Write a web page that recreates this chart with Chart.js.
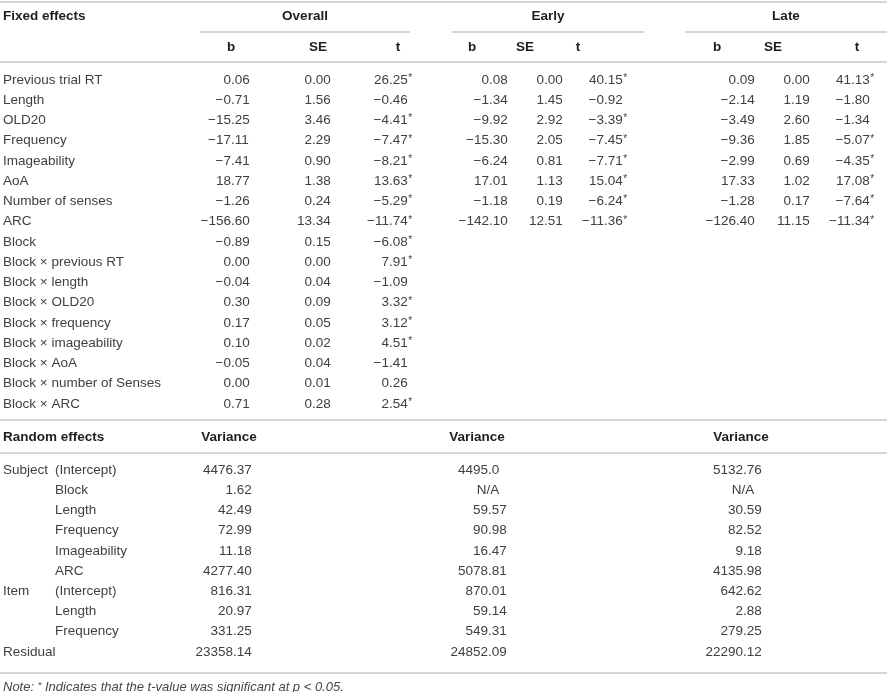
<!DOCTYPE html>
<html>
<head>
<meta charset="utf-8">
<script src="https://cdn.jsdelivr.net/npm/chart.js@4.4.1/dist/chart.umd.min.js"></script>
<style>
html,body{margin:0;padding:0;background:#fff;}
#wrap{width:887px;height:692px;}
</style>
</head>
<body>
<div id="wrap"><canvas id="c" width="887" height="692"></canvas></div>
<script>
// ---------- DATA ----------
const fixedLabels = ["Previous trial RT","Length","OLD20","Frequency","Imageability","AoA","Number of senses","ARC","Block","Block × previous RT","Block × length","Block × OLD20","Block × frequency","Block × imageability","Block × AoA","Block × number of Senses","Block × ARC"];
const groupLabels = ["Overall","Early","Late"];
const statLabels = ["b","SE","t"];
const overallB  = ["0.06","-0.71","-15.25","-17.11","-7.41","18.77","-1.26","-156.60","-0.89","0.00","-0.04","0.30","0.17","0.10","-0.05","0.00","0.71"];
const overallSE = ["0.00","1.56","3.46","2.29","0.90","1.38","0.24","13.34","0.15","0.00","0.04","0.09","0.05","0.02","0.04","0.01","0.28"];
const overallT  = ["26.25*","-0.46","-4.41*","-7.47*","-8.21*","13.63*","-5.29*","-11.74*","-6.08*","7.91*","-1.09","3.32*","3.12*","4.51*","-1.41","0.26","2.54*"];
const earlyB  = ["0.08","-1.34","-9.92","-15.30","-6.24","17.01","-1.18","-142.10"];
const earlySE = ["0.00","1.45","2.92","2.05","0.81","1.13","0.19","12.51"];
const earlyT  = ["40.15*","-0.92","-3.39*","-7.45*","-7.71*","15.04*","-6.24*","-11.36*"];
const lateB  = ["0.09","-2.14","-3.49","-9.36","-2.99","17.33","-1.28","-126.40"];
const lateSE = ["0.00","1.19","2.60","1.85","0.69","1.02","0.17","11.15"];
const lateT  = ["41.13*","-1.80","-1.34","-5.07*","-4.35*","17.08*","-7.64*","-11.34*"];
const randomGroup = ["Subject","","","","","","Item","","","Residual"];
const randomTerm  = ["(Intercept)","Block","Length","Frequency","Imageability","ARC","(Intercept)","Length","Frequency",""];
const varOverall = ["4476.37","1.62","42.49","72.99","11.18","4277.40","816.31","20.97","331.25","23358.14"];
const varEarly   = ["4495.0","N/A","59.57","90.98","16.47","5078.81","870.01","59.14","549.31","24852.09"];
const varLate    = ["5132.76","N/A","30.59","82.52","9.18","4135.98","642.62","2.88","279.25","22290.12"];
const headFixed = "Fixed effects";
const headRandom = "Random effects";
const headVariance = "Variance";
const noteText = "Note: * Indicates that the t-value was significant at p < 0.05.";

// ---------- LAYOUT ----------
const W = 887, H = 692;
const FONT = '"Liberation Sans", Arial, sans-serif';
const fixedTop = 80, fixedStep = 20.25;
const randTop = 470, randStep = 20.2;
const groupCenters = [305, 548, 786];
const statCenters = [[231,318,398],[472,525,578],[717,773,857]];
const statDecimal = [[231,312,389],[489,544,604],[736,791,851]];
const varCenters = [229, 477, 741];
const varDecimal = [233, 488, 743];
const ruleColor = '#c9c9c9';
const rules = [
  {x0:0,x1:887,y:2},
  {x0:200,x1:410,y:32},{x0:452,x1:644,y:32},{x0:685,x1:887,y:32},
  {x0:0,x1:887,y:62},
  {x0:0,x1:887,y:420},
  {x0:0,x1:887,y:453},
  {x0:0,x1:887,y:673}
];

const ruleDatasets = rules.map(r => ({
  type:'line',
  data:[{x:r.x0,y:r.y},{x:r.x1,y:r.y}],
  borderColor:ruleColor, borderWidth:1.4, pointRadius:0, fill:false, tension:0
}));

const statCols = [[overallB,overallSE,overallT],[earlyB,earlySE,earlyT],[lateB,lateSE,lateT]];
const varCols = [varOverall,varEarly,varLate];
const TEXT = '#404040';

function drawDecimal(ctx, s, dx, y) {
  let star = false;
  if (s.endsWith('*')) { star = true; s = s.slice(0,-1); }
  s = s.replace('-', '\u2212');
  ctx.font = '13.5px ' + FONT;
  ctx.fillStyle = TEXT;
  ctx.textBaseline = 'middle';
  if (s === 'N/A') {
    ctx.textAlign = 'center';
    ctx.fillText(s, dx, y);
    return;
  }
  const i = s.indexOf('.');
  const ip = i >= 0 ? s.slice(0,i) : s;
  const fp = i >= 0 ? s.slice(i) : '';
  ctx.textAlign = 'right';
  ctx.fillText(ip, dx, y);
  ctx.textAlign = 'left';
  ctx.fillText(fp, dx, y);
  if (star) {
    const w = ctx.measureText(fp).width;
    ctx.font = '10px ' + FONT;
    ctx.fillText('*', dx + w + 0.5, y - 2);
  }
}

const tablePlugin = {
  id:'tableText',
  afterDatasetsDraw(chart) {
    const ctx = chart.ctx;
    const xs = chart.scales.x, ys = chart.scales.y;
    const X = v => xs.getPixelForValue(v), Y = v => ys.getPixelForValue(v);
    ctx.save();
    ctx.textBaseline = 'middle';
    ctx.fillStyle = '#1e1e1e';
    ctx.font = 'bold 13.5px ' + FONT;
    ctx.textAlign = 'left';
    ctx.fillText(headFixed, X(3), Y(16));
    ctx.fillText(headRandom, X(3), Y(437));
    ctx.textAlign = 'center';
    groupLabels.forEach((g,gi) => ctx.fillText(g, X(groupCenters[gi]), Y(16)));
    statCenters.forEach(cs => cs.forEach((cx,si) => ctx.fillText(statLabels[si], X(cx), Y(47))));
    varCenters.forEach(cx => ctx.fillText(headVariance, X(cx), Y(437)));
    ctx.font = '13.5px ' + FONT;
    ctx.fillStyle = TEXT;
    ctx.textAlign = 'left';
    fixedLabels.forEach((l,i) => ctx.fillText(l, X(3), Y(fixedTop + i*fixedStep)));
    statCols.forEach((grp,gi) => grp.forEach((col,si) => col.forEach((v,i) => {
      drawDecimal(ctx, v, X(statDecimal[gi][si]), Y(fixedTop + i*fixedStep));
    })));
    ctx.font = '13.5px ' + FONT;
    ctx.fillStyle = TEXT;
    ctx.textAlign = 'left';
    randomGroup.forEach((l,i) => { if (l) ctx.fillText(l, X(3), Y(randTop + i*randStep)); });
    randomTerm.forEach((l,i) => { if (l) ctx.fillText(l, X(55), Y(randTop + i*randStep)); });
    varCols.forEach((col,gi) => col.forEach((v,i) => drawDecimal(ctx, v, X(varDecimal[gi]), Y(randTop + i*randStep))));
    ctx.font = 'italic 13px ' + FONT;
    ctx.fillStyle = '#474747';
    ctx.textAlign = 'left';
    const parts = noteText.split('*');
    let x = X(3), y = Y(687);
    ctx.fillText(parts[0], x, y);
    x += ctx.measureText(parts[0]).width;
    ctx.font = 'italic 9.5px ' + FONT;
    ctx.fillText('*', x, y - 2);
    x += ctx.measureText('*').width;
    ctx.font = 'italic 13px ' + FONT;
    ctx.fillText(parts[1], x, y);
    ctx.restore();
  }
};

new Chart(document.getElementById('c'), {
  type:'scatter',
  data:{ datasets: ruleDatasets },
  options:{
    responsive:false, animation:false, devicePixelRatio:1,
    layout:{padding:0},
    plugins:{legend:{display:false}, tooltip:{enabled:false}},
    scales:{
      x:{type:'linear', min:0, max:W, display:false},
      y:{type:'linear', min:0, max:H, reverse:true, display:false}
    }
  },
  plugins:[tablePlugin]
});
</script>
</body>
</html>
